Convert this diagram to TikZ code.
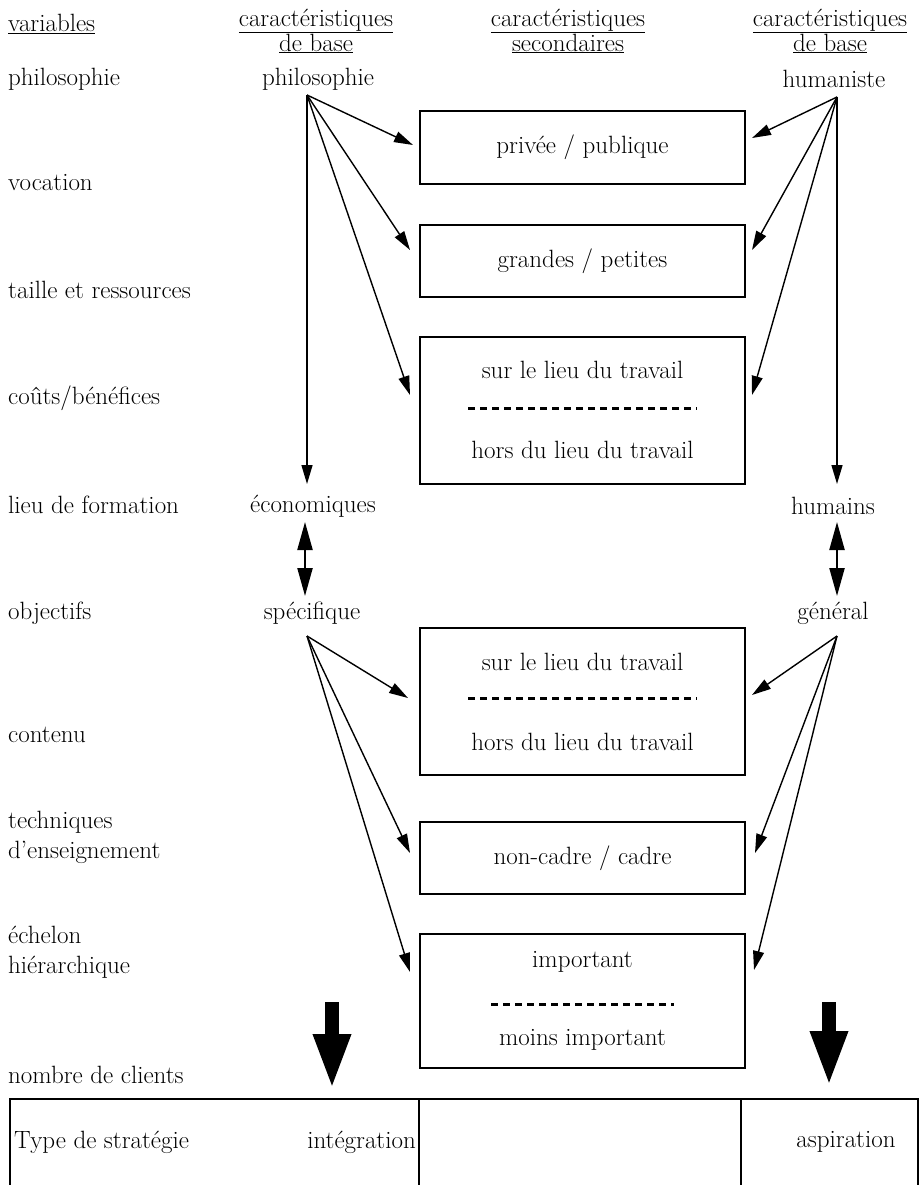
\documentclass[tikz,border=0pt]{standalone}
\usetikzlibrary{arrows.meta}
\begin{document}
\begin{tikzpicture}[x=1pt,y=-1pt,
  font=\fontsize{25}{30}\selectfont,
  lbl/.style={anchor=west, inner sep=0pt, align=left},
  txt/.style={inner sep=0pt},
  hdr/.style={inner sep=0pt, align=center, font=\fontsize{25}{25}\selectfont},
  box/.style={draw, line width=2.6pt, inner sep=0pt, minimum width=325pt},
  arr/.style={line width=1.4pt, -{Triangle[length=19pt,width=11pt]}},
  darr/.style={line width=2.2pt, {Triangle[length=28pt,width=15pt]}-{Triangle[length=28pt,width=15pt]}},
  bigarr/.style={line width=14pt, -{Triangle[length=56pt,width=34pt]}},
  dsh/.style={line width=3pt, dash pattern=on 7pt off 5pt},
  tbl/.style={line width=2.6pt}
]
\useasboundingbox (0,0) rectangle (921,1185);

% headers
\node[lbl] (hv) at (8,24) {\underline{variables}};
\node[hdr] (hl) at (316,31) {\underline{caractéristiques}\\\underline{de base}};
\node[hdr] (hm) at (568,31) {\underline{caractéristiques}\\\underline{secondaires}};
\node[hdr] (hr) at (830,31) {\underline{caractéristiques}\\\underline{de base}};

% left variables
\node[lbl] (v1) at (8,79) {philosophie};
\node[lbl] (v2) at (8,183) {vocation};
\node[lbl] (v3) at (8,290) {taille et ressources};
\node[lbl] (v4) at (8,398) {coûts/bénéfices};
\node[lbl] (v5) at (8,505) {lieu de formation};
\node[lbl] (v6) at (8,613) {objectifs};
\node[lbl] (v7) at (8,735) {contenu};
\node[lbl] (v8) at (8,837) {techniques\\d'enseignement};
\node[lbl] (v9) at (8,952) {échelon\\hiérarchique};
\node[lbl] (v10) at (8,1075) {nombre de clients};

% base characteristics
\node[txt] (ph) at (318,79) {philosophie};
\node[txt] (hu) at (834,79) {humaniste};
\node[txt] (ec) at (313,506) {économiques};
\node[txt] (hm2) at (833,506) {humains};
\node[txt] (sp) at (312,613) {spécifique};
\node[txt] (ge) at (833,613) {général};

% boxes
\node[box, minimum height=73pt] (b1) at (582.5,147.5) {privée / publique};
\node[box, minimum height=72pt] (b2) at (582.5,261) {grandes / petites};
\node[box, minimum height=147pt] (b3) at (582.5,410.5) {};
\node[txt] (b3a) at (582.5,370) {sur le lieu du travail};
\node[txt] (b3b) at (582.5,450) {hors du lieu du travail};
\draw[dsh] (468,408) -- (697,408);
\node[box, minimum height=147pt] (b4) at (582.5,701.5) {};
\node[txt] (b4a) at (582.5,662) {sur le lieu du travail};
\node[txt] (b4b) at (582.5,742) {hors du lieu du travail};
\draw[dsh] (468,698) -- (697,698);
\node[box, minimum height=72pt] (b5) at (582.5,858) {non-cadre / cadre};
\node[box, minimum height=134pt] (b6) at (582.5,1001) {};
\node[txt] (b6a) at (582.5,962) {important};
\node[txt] (b6b) at (582.5,1040) {moins important};
\draw[dsh] (491,1004) -- (674,1004);

% origins and arrow ends
\coordinate (phO) at (307,95);
\coordinate (huO) at (837,97);
\coordinate (spO) at (307,636);
\coordinate (geO) at (837,636);

\coordinate (t1) at (413,145);
\coordinate (t2) at (410,250);
\coordinate (t3) at (410,395);
\coordinate (t4) at (307,484);
\coordinate (u1) at (752,138);
\coordinate (u2) at (752,250);
\coordinate (u3) at (752,395);
\coordinate (u4) at (837,484);
\coordinate (s1) at (408,698);
\coordinate (s2) at (410,853);
\coordinate (s3) at (410,972);
\coordinate (g1) at (752,695);
\coordinate (g2) at (755,853);
\coordinate (g3) at (754,970);

\draw[arr] (phO) -- (t1);
\draw[arr] (phO) -- (t2);
\draw[arr] (phO) -- (t3);
\draw[arr] (phO) -- (t4);
\draw[arr] (huO) -- (u1);
\draw[arr] (huO) -- (u2);
\draw[arr] (huO) -- (u3);
\draw[arr] (huO) -- (u4);
\draw[arr] (spO) -- (s1);
\draw[arr] (spO) -- (s2);
\draw[arr] (spO) -- (s3);
\draw[arr] (geO) -- (g1);
\draw[arr] (geO) -- (g2);
\draw[arr] (geO) -- (g3);

% double arrows
\coordinate (d1a) at (305,522);
\coordinate (d1b) at (305,596);
\coordinate (d2a) at (837,522);
\coordinate (d2b) at (837,596);
\draw[darr] (d1a) -- (d1b);
\draw[darr] (d2a) -- (d2b);

% big arrows
\coordinate (ba1) at (332,1002);
\coordinate (bb1) at (332,1090);
\coordinate (ba2) at (829,1002);
\coordinate (bb2) at (829,1087);
\draw[bigarr] (ba1) -- (bb1);
\draw[bigarr] (ba2) -- (bb2);

% table
\draw[tbl] (10,1190) -- (10,1099) -- (918,1099) -- (918,1190);
\draw[tbl] (419,1099) -- (419,1190);
\draw[tbl] (741,1099) -- (741,1190);
\node[lbl] (tt) at (14,1142) {Type de stratégie};
\node[txt, anchor=east] (ti) at (416,1142) {intégration};
\node[txt] (ta) at (846,1142) {aspiration};
\end{tikzpicture}
\end{document}
